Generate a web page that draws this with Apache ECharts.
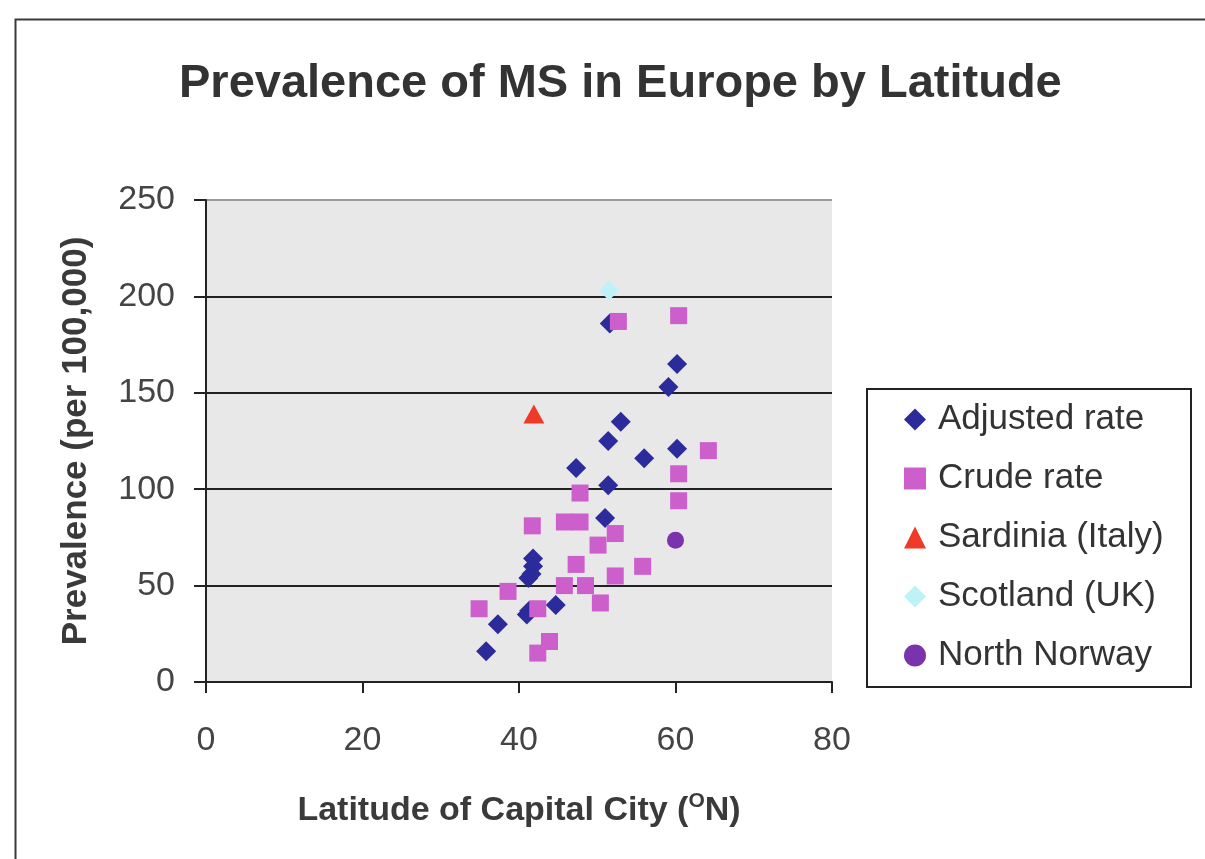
<!DOCTYPE html>
<html>
<head>
<meta charset="utf-8">
<script src="https://cdn.jsdelivr.net/npm/echarts@6/dist/echarts.min.js"></script>
<style>
html,body{margin:0;padding:0;background:#fff;}
#chart{width:1205px;height:859px;}
</style>
</head>
<body>
<div id="chart"></div>
<script>
// Data
const adjustedX = [35.8, 37.3, 41.0, 41.3, 44.7, 41.2, 41.6, 41.8, 41.8, 51.0, 51.4, 47.3, 51.6, 60.2, 59.1, 53.0, 51.4, 56.0, 60.2];
const adjustedY = [16, 30, 35, 37, 40, 54, 56, 60, 64, 85, 102, 111, 186, 165, 153, 135, 125, 116, 121];
const crudeX = [52.7, 60.4, 64.2, 60.4, 60.4, 47.8, 41.7, 45.8, 47.8, 52.3, 50.1, 47.3, 55.8, 52.3, 38.6, 45.8, 48.5, 50.4, 34.9, 42.4, 43.9, 42.4];
const crudeY = [187, 190, 120, 108, 94, 98, 81, 83, 83, 77, 71, 61, 60, 55, 47, 50, 50, 41, 38, 38, 21, 15];
const sardiniaX = [41.9];
const sardiniaY = [139];
const scotlandX = [51.5];
const scotlandY = [203];
const norwayX = [60.0];
const norwayY = [73.5];
const seriesNames = ['Adjusted rate', 'Crude rate', 'Sardinia (Italy)', 'Scotland (UK)', 'North Norway'];
const xTicks = [0, 20, 40, 60, 80];
const yTicks = [0, 50, 100, 150, 200, 250];

function pairs(xs, ys) { return xs.map((x, i) => [x, ys[i]]); }

const FONT = '"Liberation Sans", Arial, sans-serif';
const chart = echarts.init(document.getElementById('chart'), null, {renderer: 'canvas'});

chart.setOption({
  animation: false,
  backgroundColor: '#ffffff',
  title: {
    text: 'Prevalence of MS in Europe by Latitude',
    left: 174, top: 56,
    textStyle: {fontFamily: FONT, fontSize: 47, fontWeight: 'bold', color: '#333333'}
  },
  graphic: [
    {type: 'rect', left: 13, top: 17, shape: {x: 0, y: 0, width: 1300, height: 1000},
     style: {fill: 'none', stroke: '#3a3a3a', lineWidth: 2}, silent: true, z: 100},
    {type: 'rect', left: 866, top: 388, shape: {x: 0, y: 0, width: 324, height: 298},
     style: {fill: '#ffffff', stroke: '#222222', lineWidth: 2}, silent: true, z: 0}
  ],
  legend: {
    orient: 'vertical',
    left: 904, top: 402,
    itemGap: 24,
    itemWidth: 22, itemHeight: 22,
    padding: 0,
    data: seriesNames,
    textStyle: {fontFamily: FONT, fontSize: 35, color: '#333333', padding: [0, 0, 0, 7]},
    z: 10
  },
  grid: {
    left: 206, right: 373, top: 200, bottom: 177,
    show: true, backgroundColor: '#e8e8e8', borderWidth: 0
  },
  xAxis: {
    type: 'value', min: xTicks[0], max: xTicks[xTicks.length - 1], interval: 20,
    name: 'Latitude of Capital City ({s|O}N)',
    nameLocation: 'middle', nameGap: 109,
    nameTextStyle: {
      fontFamily: FONT, fontSize: 34, fontWeight: 'bold', color: '#3a3a3a',
      rich: {s: {fontFamily: FONT, fontSize: 21, fontWeight: 'bold', color: '#3a3a3a', verticalAlign: 'top', lineHeight: 40}}
    },
    axisLine: {show: true, onZero: false, lineStyle: {color: '#222222', width: 2}},
    axisTick: {show: true, inside: false, length: 11, lineStyle: {color: '#222222', width: 2}},
    axisLabel: {margin: 42, fontFamily: FONT, fontSize: 34, color: '#444444'},
    splitLine: {show: false}
  },
  yAxis: {
    type: 'value', min: yTicks[0], max: yTicks[yTicks.length - 1], interval: 50,
    name: 'Prevalence (per 100,000)',
    nameLocation: 'middle', nameGap: 112, nameRotate: 90,
    nameTextStyle: {fontFamily: FONT, fontSize: 35, fontWeight: 'bold', color: '#3a3a3a'},
    axisLine: {show: true, onZero: false, lineStyle: {color: '#222222', width: 2}},
    axisTick: {show: true, inside: false, length: 12, lineStyle: {color: '#222222', width: 2}},
    axisLabel: {margin: 31, fontFamily: FONT, fontSize: 34, color: '#444444'},
    splitLine: {show: true, lineStyle: {color: ['#222222', '#222222', '#222222', '#222222', '#222222', '#9a9a9a'], width: 2}}
  },
  series: [
    {name: seriesNames[0], type: 'scatter', symbol: 'diamond', symbolSize: 20,
     itemStyle: {color: '#2b2b9c', opacity: 1}, data: pairs(adjustedX, adjustedY)},
    {name: seriesNames[1], type: 'scatter', symbol: 'rect', symbolSize: 17,
     itemStyle: {color: '#cc5fcc', opacity: 1}, data: pairs(crudeX, crudeY)},
    {name: seriesNames[2], type: 'scatter', symbol: 'triangle', symbolSize: [21, 19],
     itemStyle: {color: '#ee3a26', opacity: 1}, data: pairs(sardiniaX, sardiniaY)},
    {name: seriesNames[3], type: 'scatter', symbol: 'diamond', symbolSize: 20,
     itemStyle: {color: '#bff2f6', opacity: 1}, data: pairs(scotlandX, scotlandY)},
    {name: seriesNames[4], type: 'scatter', symbol: 'circle', symbolSize: 17,
     itemStyle: {color: '#7b32ad', opacity: 1}, data: pairs(norwayX, norwayY)}
  ]
});
</script>
</body>
</html>
